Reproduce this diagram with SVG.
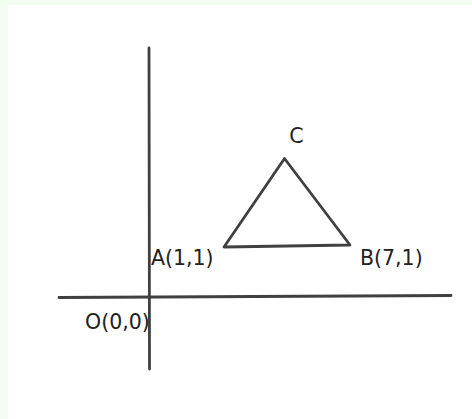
<svg xmlns="http://www.w3.org/2000/svg" width="472" height="419" viewBox="0 0 472 419">
<style>
.ln{stroke:#404040;stroke-width:2.8;fill:none;stroke-linecap:round;stroke-linejoin:round}
.lb{font-family:"DejaVu Sans",sans-serif;font-size:20.5px;fill:#222}
</style>
<rect x="0" y="0" width="472" height="419" fill="#f3fdf1"/>
<rect x="8" y="5" width="464" height="414" fill="#ffffff"/>
<g id="connectors">
<line id="y-axis" class="ln" x1="149" y1="48" x2="149.5" y2="369"/>
<line id="x-axis" class="ln" x1="59" y1="297.5" x2="451" y2="295.5"/>
</g>
<g id="triangle">
<polygon class="ln" points="224,247 284.5,158.5 350,245"/>
</g>
<g id="label-C"><text class="lb" x="296.5" y="143" text-anchor="middle">C</text></g>
<g id="label-A"><text class="lb" x="151" y="265">A(1,1)</text></g>
<g id="label-B"><text class="lb" x="360" y="265">B(7,1)</text></g>
<g id="label-O"><text class="lb" x="85" y="328.5">O(0,0)</text></g>
</svg>
